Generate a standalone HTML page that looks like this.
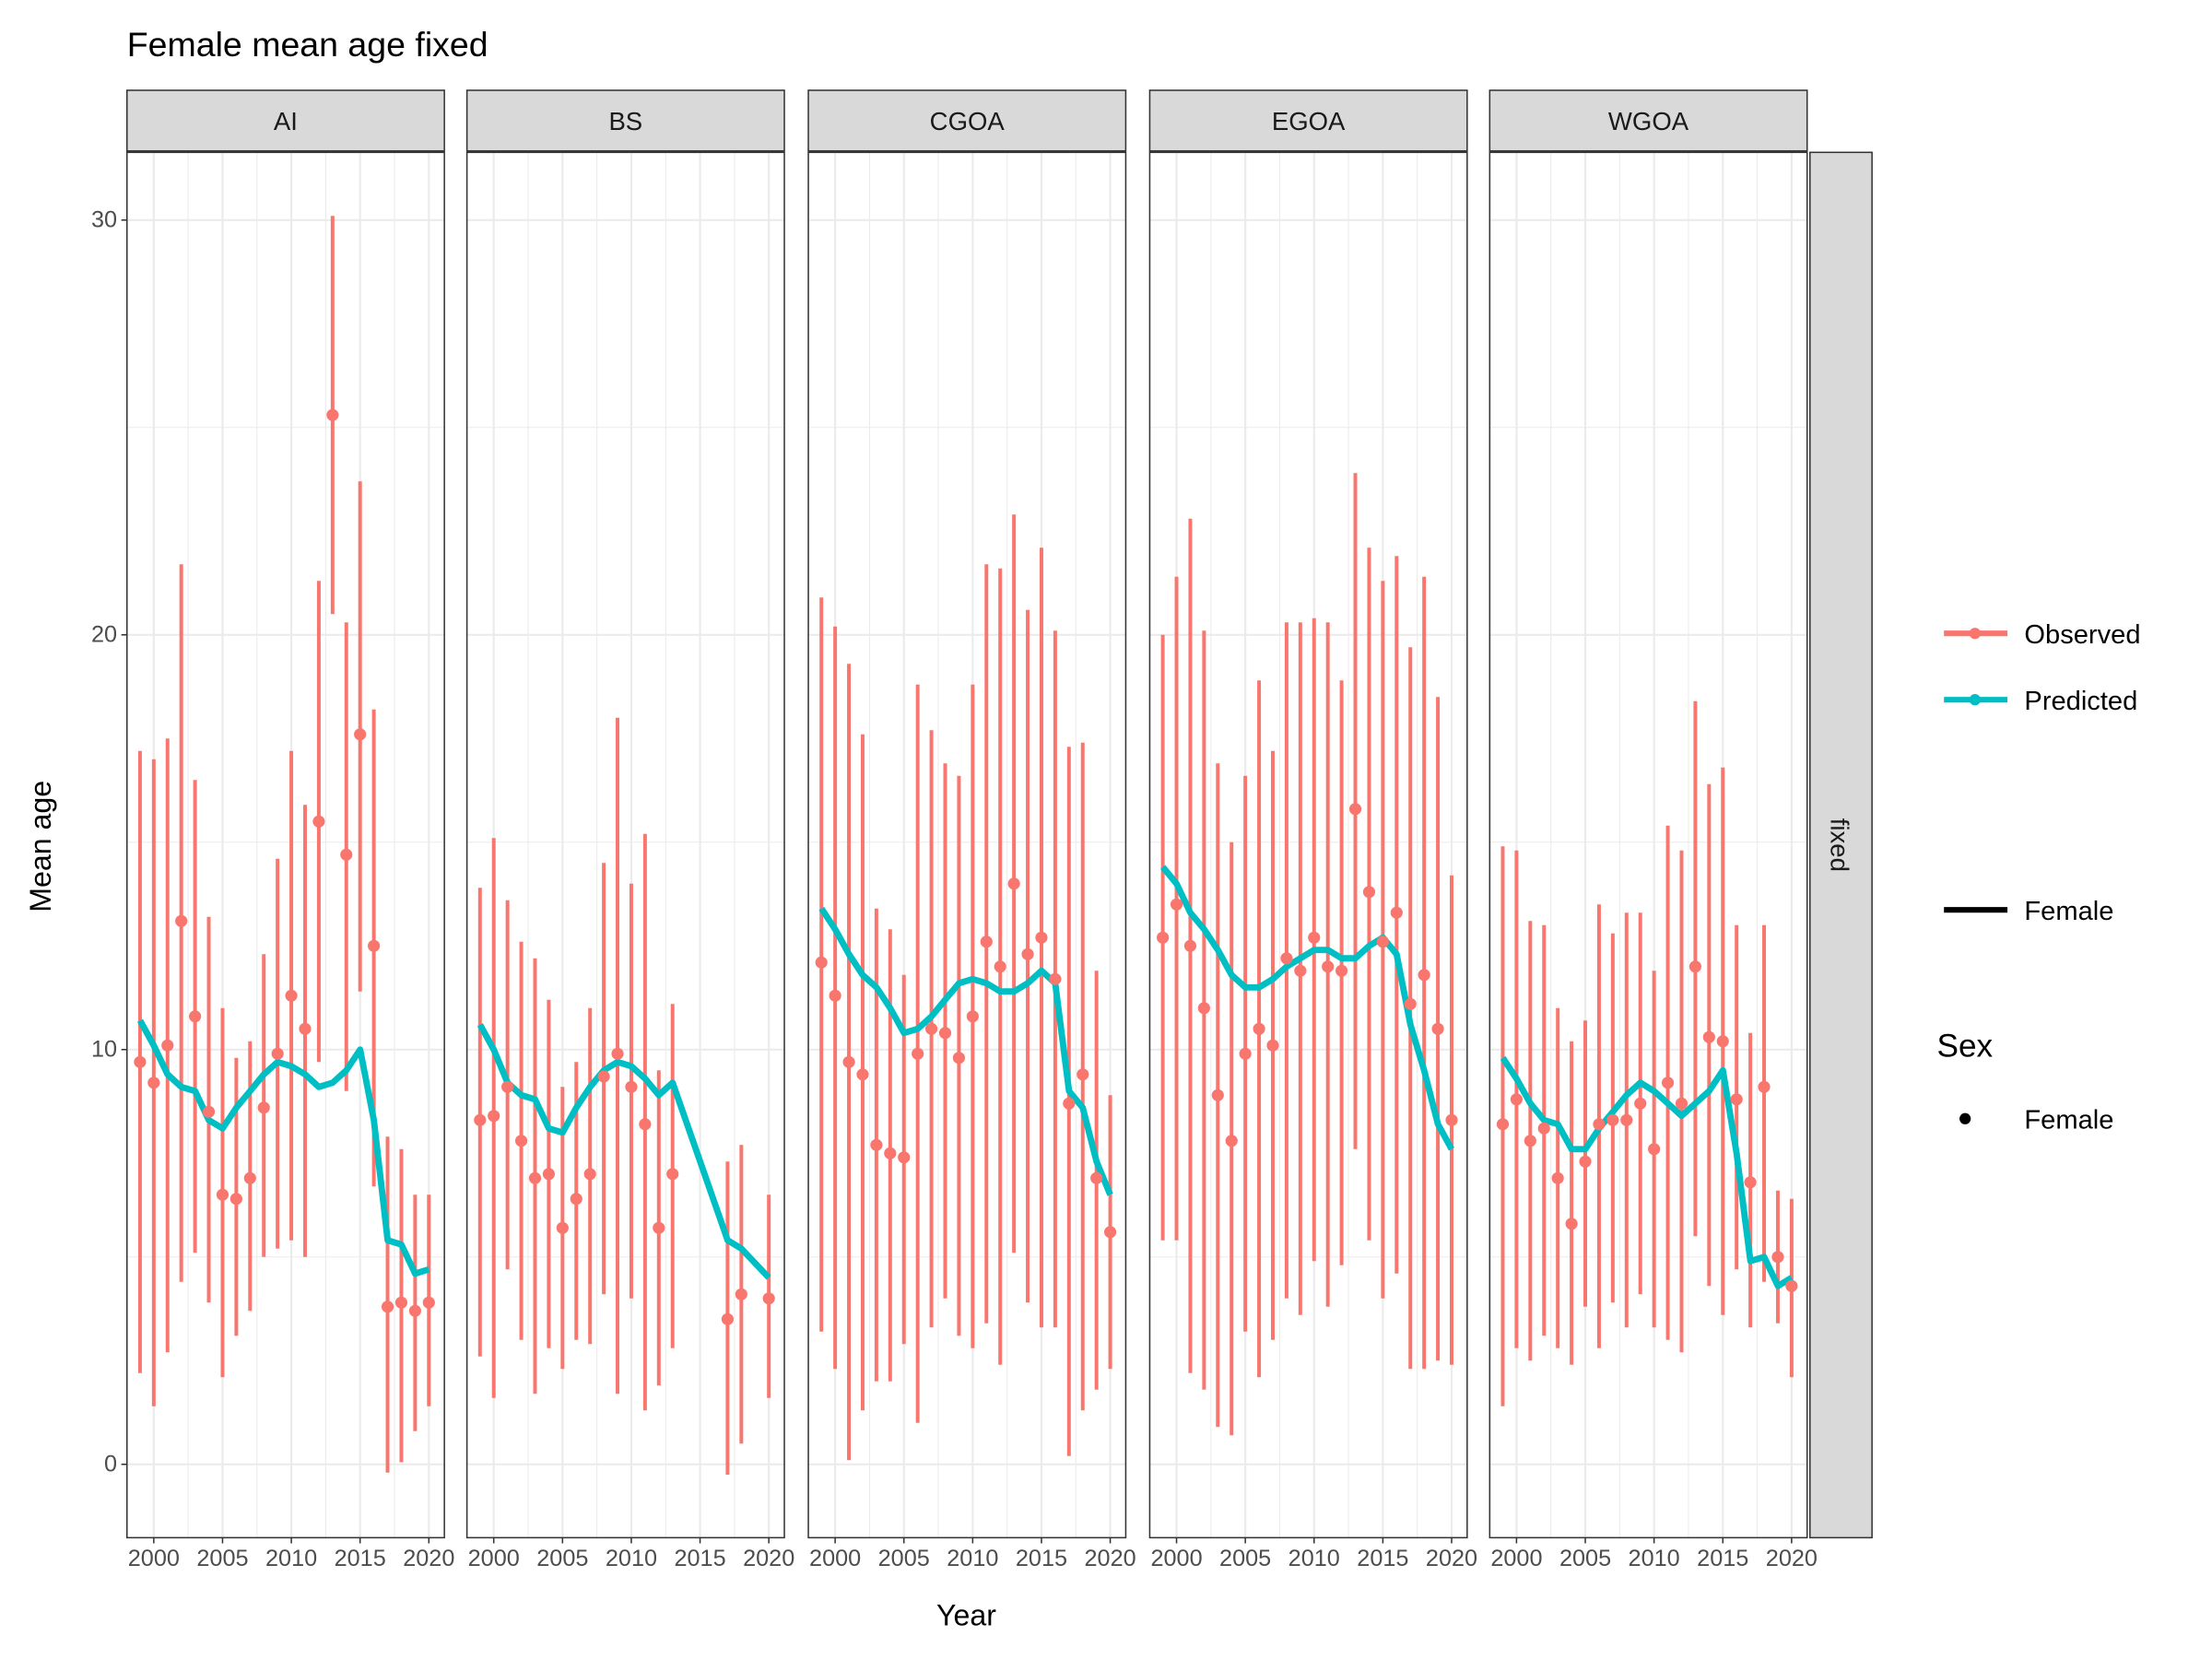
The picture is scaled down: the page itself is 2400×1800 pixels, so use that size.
<!DOCTYPE html>
<html><head><meta charset="utf-8"><style>html,body{margin:0;padding:0;background:#fff}svg{display:block}</style></head>
<body>
<svg id="chart" xmlns="http://www.w3.org/2000/svg" width="2400" height="1800" viewBox="0 0 1568 1176" font-family="Liberation Sans, sans-serif">
<rect width="1568" height="1176" fill="#fff"/>
<text x="90" y="40" font-size="24.5" fill="#000">Female mean age fixed</text>
<text transform="translate(36,600) rotate(-90)" text-anchor="middle" font-size="21">Mean age</text>
<text x="685" y="1152" text-anchor="middle" font-size="21">Year</text>
<g id="panels"></g>
<g>
<rect x="1283" y="108" width="44" height="982" fill="#d9d9d9" stroke="#333" stroke-width="1"/>
<text transform="translate(1298,599) rotate(90)" text-anchor="middle" font-size="18" fill="#1a1a1a">fixed</text>
</g>
<g>
<g><line x1="1378" y1="449" x2="1423" y2="449" stroke="#F8766D" stroke-width="4"/><circle cx="1400" cy="449" r="4" fill="#F8766D"/><text x="1435" y="456" font-size="19">Observed</text></g>
<g><line x1="1378" y1="496" x2="1423" y2="496" stroke="#00BFC4" stroke-width="4"/><circle cx="1400" cy="496" r="4" fill="#00BFC4"/><text x="1435" y="503" font-size="19">Predicted</text></g>
<g><line x1="1378" y1="645" x2="1423" y2="645" stroke="#000" stroke-width="4"/><text x="1435" y="652" font-size="19">Female</text></g>
<text x="1373" y="749" font-size="23">Sex</text>
<g><circle cx="1393" cy="793" r="4" fill="#000"/><text x="1435" y="800" font-size="19">Female</text></g>
</g>
</svg>
<script>
const regions = ["AI","BS","CGOA","EGOA","WGOA"];
const yTicks = [0,10,20,30];
const xTicks = [2000,2005,2010,2015,2020];
const aiYears = [1999,2000,2001,2002,2003,2004,2005,2006,2007,2008,2009,2010,2011,2012,2013,2014,2015,2016,2017,2018,2019,2020];
const aiObs = [9.7,9.2,10.1,13.1,10.8,8.5,6.5,6.4,6.9,8.6,9.9,11.3,10.5,15.5,25.3,14.7,17.6,12.5,3.8,3.9,3.7,3.9];
const aiLo = [2.2,1.4,2.7,4.4,5.1,3.9,2.1,3.1,3.7,5.0,5.2,5.4,5.0,9.7,20.5,9.0,11.4,6.7,-0.2,0.05,0.8,1.4];
const aiHi = [17.2,17.0,17.5,21.7,16.5,13.2,11.0,9.8,10.2,12.3,14.6,17.2,15.9,21.3,30.1,20.3,23.7,18.2,7.9,7.6,6.5,6.5];
const aiPred = [10.7,10.1,9.4,9.1,9.0,8.3,8.1,8.6,9.0,9.4,9.7,9.6,9.4,9.1,9.2,9.5,10.0,8.3,5.4,5.3,4.6,4.7];
const bsYears = [1999,2000,2001,2002,2003,2004,2005,2006,2007,2008,2009,2010,2011,2012,2013,2017,2018,2020];
const bsObs = [8.3,8.4,9.1,7.8,6.9,7.0,5.7,6.4,7.0,9.35,9.9,9.1,8.2,5.7,7.0,3.5,4.1,4.0];
const bsLo = [2.6,1.6,4.7,3.0,1.7,2.8,2.3,3.0,2.9,4.1,1.7,4.0,1.3,1.9,2.8,-0.25,0.5,1.6];
const bsHi = [13.9,15.1,13.6,12.6,12.2,11.2,9.1,9.7,11.0,14.5,18.0,14.0,15.2,9.5,11.1,7.3,7.7,6.5];
const bsPred = [10.6,10.0,9.2,8.9,8.8,8.1,8.0,8.6,9.1,9.5,9.7,9.6,9.3,8.9,9.2,5.4,5.2,4.5];
const cgYears = aiYears;
const cgObs = [12.1,11.3,9.7,9.4,7.7,7.5,7.4,9.9,10.5,10.4,9.8,10.8,12.6,12.0,14.0,12.3,12.7,11.7,8.7,9.4,6.9,5.6];
const cgLo = [3.2,2.3,0.1,1.3,2.0,2.0,2.9,1.0,3.3,4.0,3.1,2.8,3.4,2.4,5.1,3.9,3.3,3.3,0.2,1.3,1.8,2.3];
const cgHi = [20.9,20.2,19.3,17.6,13.4,12.9,11.8,18.8,17.7,16.9,16.6,18.8,21.7,21.6,22.9,20.6,22.1,20.1,17.3,17.4,11.9,8.9];
const cgPred = [13.4,12.9,12.3,11.8,11.5,11.0,10.4,10.5,10.8,11.2,11.6,11.7,11.6,11.4,11.4,11.6,11.9,11.6,9.0,8.6,7.3,6.5];
const egYears = aiYears;
const egObs = [12.7,13.5,12.5,11.0,8.9,7.8,9.9,10.5,10.1,12.2,11.9,12.7,12.0,11.9,15.8,13.8,12.6,13.3,11.1,11.8,10.5,8.3];
const egLo = [5.4,5.4,2.2,1.8,0.9,0.7,3.2,2.1,3.0,4.0,3.6,4.9,3.8,4.8,7.6,5.4,4.0,4.6,2.3,2.3,2.5,2.4];
const egHi = [20.0,21.4,22.8,20.1,16.9,15.0,16.6,18.9,17.2,20.3,20.3,20.4,20.3,18.9,23.9,22.1,21.3,21.9,19.7,21.4,18.5,14.2];
const egPred = [14.4,14.0,13.3,12.9,12.4,11.8,11.5,11.5,11.7,12.0,12.2,12.4,12.4,12.2,12.2,12.5,12.7,12.3,10.6,9.5,8.2,7.6];
const wgYears = aiYears;
const wgObs = [8.2,8.8,7.8,8.1,6.9,5.8,7.3,8.2,8.3,8.3,8.7,7.6,9.2,8.7,12.0,10.3,10.2,8.8,6.8,9.1,5.0,4.3];
const wgLo = [1.4,2.8,2.5,3.1,2.8,2.4,3.8,2.8,3.9,3.3,4.1,3.3,3.0,2.7,5.5,4.3,3.6,4.7,3.3,4.4,3.4,2.1];
const wgHi = [14.9,14.8,13.1,13.0,11.0,10.2,10.7,13.5,12.8,13.3,13.3,11.9,15.4,14.8,18.4,16.4,16.8,13.0,10.4,13.0,6.6,6.4];
const wgPred = [9.8,9.3,8.7,8.3,8.2,7.6,7.6,8.1,8.5,8.9,9.2,9.0,8.7,8.4,8.7,9.0,9.5,7.5,4.9,5.0,4.3,4.5];

const series = [
 [aiYears,aiObs,aiLo,aiHi,aiPred],
 [bsYears,bsObs,bsLo,bsHi,bsPred],
 [cgYears,cgObs,cgLo,cgHi,cgPred],
 [egYears,egObs,egLo,egHi,egPred],
 [wgYears,wgObs,wgLo,wgHi,wgPred]];

const NS="http://www.w3.org/2000/svg";
const root=document.getElementById('panels');
function mk(tag,attrs,parent){const e=document.createElementNS(NS,tag);for(const k in attrs)e.setAttribute(k,attrs[k]);parent.appendChild(e);return e;}
const panelLefts=[90,331,573,815,1056];
const PW=225, PT=108, PB=1090;
const yScale=v=>1038-v*29.4;
regions.forEach((r,i)=>{
  const L=panelLefts[i];
  const xScale=yr=>L+19+(yr-2000)*9.75;
  const g=mk('g',{},root);
  
  
  const st=mk('rect',{x:L,y:64,width:PW,height:43,fill:'#d9d9d9',stroke:'#333','stroke-width':1},g);
  
  
  const stt=mk('text',{x:L+PW/2,y:92,'text-anchor':'middle','font-size':18,fill:'#1a1a1a'},g);
  stt.textContent=r;
  for(let v=-5;v<=35;v+=5){const y=yScale(v);if(y<PT||y>PB)continue;
    mk('line',{x1:L,x2:L+PW,y1:y,y2:y,stroke:'#ebebeb','stroke-width':(v%10===0)?1.4:0.7},g);}
  for(let yr=1997.5;yr<=2022.5;yr+=2.5){const x=xScale(yr);if(x<L||x>L+PW)continue;
    mk('line',{x1:x,x2:x,y1:PT,y2:PB,stroke:'#ebebeb','stroke-width':(yr%5===0)?1.4:0.7},g);}
  const [yrs,obs,lo,hi,pred]=series[i];
  yrs.forEach((yr,j)=>{
    const b=mk('line',{x1:xScale(yr),x2:xScale(yr),y1:yScale(lo[j]),y2:yScale(hi[j]),stroke:'#F8766D','stroke-width':2.6},g);
    
    
  });
  let d='';
  yrs.forEach((yr,j)=>{d+=(j?'L':'M')+xScale(yr).toFixed(1)+','+yScale(pred[j]).toFixed(1);});
  const pl=mk('path',{d:d,fill:'none',stroke:'#00BFC4','stroke-width':4.5,'stroke-linejoin':'round'},g);
  
  
  yrs.forEach((yr,j)=>{
    const c=mk('circle',{cx:xScale(yr),cy:yScale(obs[j]),r:4.3,fill:'#F8766D'},g);
    
    
  });
  mk('rect',{x:L,y:PT,width:PW,height:PB-PT,fill:'none',stroke:'#333','stroke-width':1},g);
  xTicks.forEach(t=>{const x=xScale(t);
    mk('line',{x1:x,x2:x,y1:PB,y2:PB+4,stroke:'#333','stroke-width':1},g);
    const tx=mk('text',{x:x,y:PB+20,'text-anchor':'middle','font-size':16.5,fill:'#4d4d4d'},g);
    
    
    tx.textContent=t;});
  if(i===0){yTicks.forEach(t=>{const y=yScale(t);
    mk('line',{x1:L-4,x2:L,y1:y,y2:y,stroke:'#333','stroke-width':1},g);
    const tx=mk('text',{x:L-7,y:y+5,'text-anchor':'end','font-size':16.5,fill:'#4d4d4d'},g);
    
    
    tx.textContent=t;});}
});
</script>
</body></html>
